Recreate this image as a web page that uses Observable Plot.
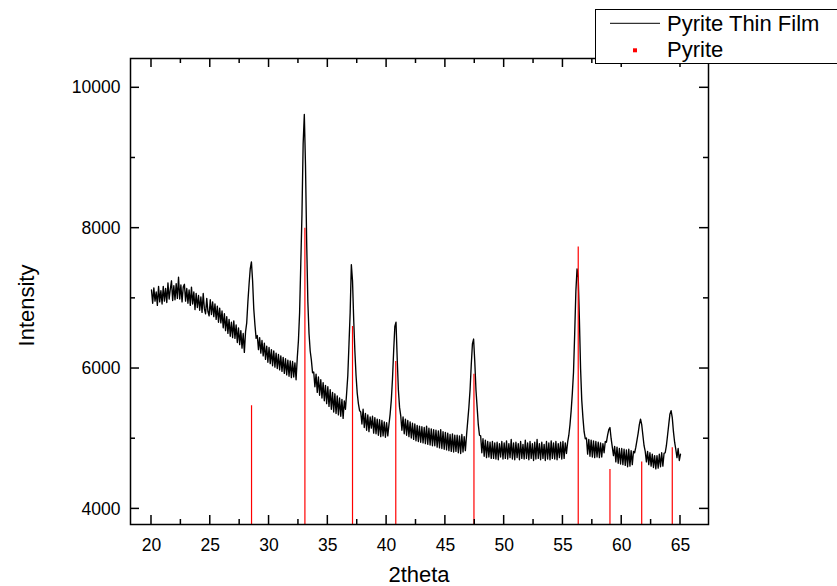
<!DOCTYPE html>
<html><head><meta charset="utf-8">
<script src="https://cdn.jsdelivr.net/npm/d3@7"></script>
<script src="https://cdn.jsdelivr.net/npm/@observablehq/plot@0.6"></script>
<style>html,body{margin:0;padding:0;background:#fff;} svg{display:block;}</style>
</head><body><div id="chart"></div>
<script>
// 2theta sampling of the measured pattern
const twoThetaStart = 20.0;
const twoThetaStep = 0.1;
// Pyrite thin film intensities (one row per degree, 20.0 ... 65.0)
const filmIntensity = [
7120,6930,7150,6960,7090,6900,7170,6950,7110,6920,
7170,6960,7140,6940,7220,6990,7130,7250,6970,7180,
6980,7210,7000,7300,6990,7190,6950,7160,7200,6960,
7140,6930,7120,6900,7160,6920,7090,6840,7070,6870,
7040,6830,7020,6800,7070,6850,6780,7000,6810,6750,
6980,6770,6950,6740,6920,6700,6890,6660,6860,6650,
6820,6580,6780,6540,6740,6500,6700,6460,6660,6440,
6680,6430,6620,6370,6580,6340,6540,6290,6500,6230,
6520,6650,6950,7200,7420,7520,7250,6850,6620,6430,
6470,6270,6440,6220,6400,6180,6360,6130,6320,6090,
6300,6070,6270,6040,6250,6020,6220,6000,6200,5980,
6180,5960,6160,5930,6140,5910,6120,5890,6110,5870,
6100,5880,6080,5840,6150,6400,6800,7500,8200,9200,
9620,8900,7800,6950,6500,6250,6120,5940,5950,5740,
5920,5660,5880,5620,5840,5580,5800,5540,5760,5500,
5740,5460,5700,5420,5660,5380,5640,5360,5610,5340,
5580,5320,5560,5290,5540,5420,5650,5900,6350,6800,
7480,7250,6700,6250,5900,5650,5500,5400,5380,5210,
5420,5160,5360,5120,5340,5100,5310,5150,5320,5080,
5300,5070,5280,5050,5270,5030,5260,5040,5240,5020,
5230,5040,5200,5350,5550,5850,6250,6600,6660,6150,
5700,5450,5330,5120,5310,5070,5280,5050,5260,5030,
5240,5010,5220,4990,5210,4970,5190,4960,5180,4950,
5170,4940,5160,4930,5180,4920,5150,4910,5140,4900,
5130,4900,5120,4880,5110,4870,5130,4860,5100,4850,
5090,4840,5080,4830,5060,4820,5070,4810,5050,4820,
5050,4800,5040,4790,5060,4810,5030,4830,5050,5250,
5450,5700,6050,6350,6420,6100,5700,5450,5200,5050,
5040,4800,5000,4750,4980,4730,4960,4740,4950,4720,
4960,4720,4940,4710,4950,4700,4930,4740,4960,4710,
4940,4720,4970,4710,4930,4730,4990,4710,4940,4700,
4950,4730,4930,4700,4960,4720,4920,4710,4980,4720,
4940,4700,4960,4720,4930,4690,4950,4710,4990,4720,
4930,4700,4950,4720,4920,4690,4960,4710,4940,4700,
4970,4720,4940,4710,4960,4700,4930,4730,4950,4710,
4960,4720,4940,4790,4950,5050,5200,5400,5650,5950,
6500,7100,7420,7300,6700,6000,5550,5300,5100,5000,
5010,4780,4990,4750,4980,4740,4970,4730,4960,4740,
4950,4730,4940,4740,4930,4800,4960,4950,5050,5130,
5160,5000,4880,4760,4890,4670,4880,4650,4860,4640,
4860,4630,4850,4620,4840,4600,4850,4610,4830,4630,
4820,4800,4880,4980,5080,5200,5280,5200,5050,4900,
4820,4670,4820,4630,4800,4610,4780,4590,4760,4570,
4760,4580,4780,4600,4800,4610,4790,4800,4900,5050,
5200,5350,5400,5300,5100,4950,4850,4730,4860,4690,
4780
];
// Pyrite reference pattern
const pyritePos = [28.51, 33.05, 37.10, 40.78, 47.43, 56.30, 59.00, 61.70, 64.30];
const pyriteInt = [5470, 8000, 6600, 6100, 5920, 7730, 4560, 4670, 4870];
// Ticks
const xTicks = [20, 25, 30, 35, 40, 45, 50, 55, 60, 65];
const xMinor = [22.5, 27.5, 32.5, 37.5, 42.5, 47.5, 52.5, 57.5, 62.5];
const yTicks = [4000, 6000, 8000, 10000];
const yMinor = [5000, 7000, 9000];
const seriesNames = ["Pyrite Thin Film", "Pyrite"];
const xTitle = "2theta";
const yTitle = "Intensity";

const film = filmIntensity.map((v, i) => ({t: +(twoThetaStart + i * twoThetaStep).toFixed(2), v}));
const pyrite = pyritePos.map((t, i) => ({t, v: pyriteInt[i]}));

const FONT = "'Liberation Sans', Arial, Helvetica, sans-serif";

const chart = Plot.plot({
  width: 837, height: 586,
  marginLeft: 130, marginRight: 129, marginTop: 58, marginBottom: 62,
  style: {fontFamily: FONT, color: "black", background: "white"},
  x: {domain: [18.214, 67.382]},
  y: {domain: [3777.7, 10417.5]},
  marks: [
    Plot.line(film, {x: "t", y: "v", stroke: "black", strokeWidth: 1.35}),
    Plot.ruleX(pyrite, {x: "t", y: "v", stroke: "#ff0000", strokeWidth: 1.2, clip: true}),
    Plot.frame({stroke: "black", strokeWidth: 1.5}),
    Plot.axisX({ticks: xTicks, anchor: "bottom", tickSize: 0, tickPadding: 14, fontSize: 17.5, label: null, tickFormat: d => String(d)}),
    Plot.axisY({ticks: yTicks, anchor: "left", tickSize: 0, tickPadding: 10, fontSize: 17.5, label: null, tickFormat: d => String(d)})
  ]
});
document.getElementById("chart").appendChild(chart);

const sx = chart.scale("x"), sy = chart.scale("y");
const [L, R] = sx.range;
const [B, T] = sy.range;
const svg = d3.select(chart);
const tg = svg.append("g").attr("stroke", "black").attr("stroke-width", 1.5);
function vt(vals, len) {
  vals.forEach(v => {
    const px = sx.apply(v);
    tg.append("line").attr("x1", px).attr("x2", px).attr("y1", B).attr("y2", B - len);
    tg.append("line").attr("x1", px).attr("x2", px).attr("y1", T).attr("y2", T + len);
  });
}
function ht(vals, len) {
  vals.forEach(v => {
    const py = sy.apply(v);
    tg.append("line").attr("y1", py).attr("y2", py).attr("x1", L).attr("x2", L + len);
    tg.append("line").attr("y1", py).attr("y2", py).attr("x1", R).attr("x2", R - len);
  });
}
vt(xTicks, 9); vt(xMinor, 5); ht(yTicks, 9); ht(yMinor, 5);

// axis titles
svg.append("text").attr("x", (L + R) / 2).attr("y", 582).attr("text-anchor", "middle")
  .attr("font-family", FONT).attr("font-size", 22).attr("fill", "black").text(xTitle);
svg.append("text").attr("transform", "translate(34.3,305.5) rotate(-90)").attr("text-anchor", "middle")
  .attr("font-family", FONT).attr("font-size", 22).attr("fill", "black").text(yTitle);

// legend
const lg = svg.append("g").attr("text-anchor", "start");
lg.append("rect").attr("x", 595.5).attr("y", 9.5).attr("width", 260).attr("height", 54)
  .attr("fill", "white").attr("stroke", "black").attr("stroke-width", 1);
lg.append("line").attr("x1", 610).attr("x2", 660).attr("y1", 23.3).attr("y2", 23.3)
  .attr("stroke", "black").attr("stroke-width", 1);
lg.append("rect").attr("x", 633).attr("y", 48.3).attr("width", 4).attr("height", 4).attr("fill", "#ff0000");
lg.append("text").attr("x", 667).attr("y", 30.7).attr("text-anchor", "start").attr("font-family", FONT).attr("font-size", 22)
  .attr("fill", "black").text(seriesNames[0]);
lg.append("text").attr("x", 667).attr("y", 56.7).attr("text-anchor", "start").attr("font-family", FONT).attr("font-size", 22)
  .attr("fill", "black").text(seriesNames[1]);
</script></body></html>
